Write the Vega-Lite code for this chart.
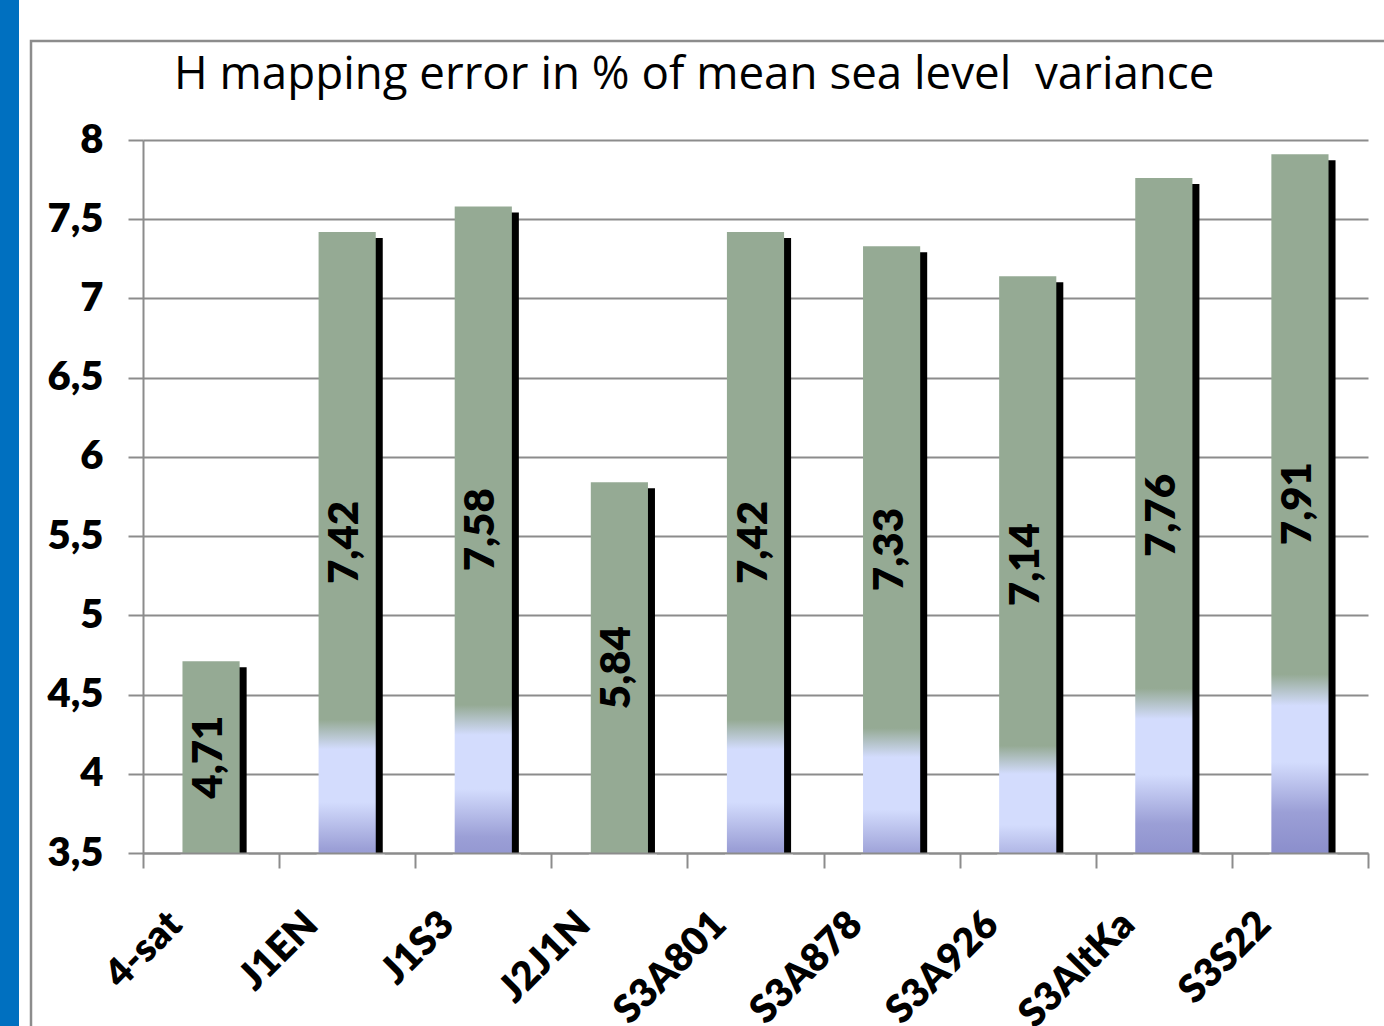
{
  "$schema": "https://vega.github.io/schema/vega-lite/v6.json",
  "padding": 0,
  "background": "white",
  "bounds": "flush",
  "spacing": 12,
  "config": {
    "font": "Lato",
    "locale": {"number": {"decimal": ",", "thousands": ".", "grouping": [3], "currency": ["", " €"]}}
  },
  "hconcat": [
    {
      "width": 19,
      "height": 1026,
      "view": {"fill": "#0070c0", "stroke": null},
      "data": {"values": []},
      "mark": "text",
      "encoding": {}
    },
    {
      "bounds": "flush",
      "spacing": 10,
      "vconcat": [
        {
          "width": 1,
          "height": 31,
          "view": {"stroke": null},
          "data": {"values": []},
          "mark": "text",
          "encoding": {}
        },
        {
          "width": 1360,
          "height": 995,
          "view": {"fill": "white", "stroke": "#8c8c8c", "strokeWidth": 2.5},
          "title": {
            "text": "H mapping error in % of mean sea level\u00a0 variance",
            "anchor": "start",
            "frame": "group",
            "offset": 0,
            "dx": 143,
            "dy": 94,
            "baseline": "alphabetic",
            "font": "Open Sans",
            "fontSize": 45.7,
            "fontWeight": "normal",
            "color": "black"
          },
          "data": {
            "values": [
              {"series": "4-sat", "value": 4.71},
              {"series": "J1EN", "value": 7.42},
              {"series": "J1S3", "value": 7.58},
              {"series": "J2J1N", "value": 5.84},
              {"series": "S3A801", "value": 7.42},
              {"series": "S3A878", "value": 7.33},
              {"series": "S3A926", "value": 7.14},
              {"series": "S3AltKa", "value": 7.76},
              {"series": "S3S22", "value": 7.91}
            ]
          },
          "encoding": {
            "x": {
              "field": "series",
              "type": "nominal",
              "sort": null,
              "scale": {"range": [112, 1337], "paddingInner": 0, "paddingOuter": 0},
              "axis": {
                "title": null,
                "orient": "bottom",
                "offset": -183,
                "zindex": 1,
                "grid": false,
                "tickBand": "extent",
                "domainColor": "#8c8c8c",
                "domainWidth": 2,
                "tickColor": "#8c8c8c",
                "tickWidth": 2,
                "tickSize": 15,
                "labelAngle": -45,
                "labelAlign": "right",
                "labelBaseline": "middle",
                "labelPadding": 50,
                "labelOffset": -36,
                "labelFont": "Lato",
                "labelFontSize": 39,
                "labelFontWeight": 800,
                "labelColor": "black"
              }
            }
          },
          "layer": [
            {
              "mark": {"type": "bar", "color": "black", "xOffset": 7, "yOffset": 6, "clip": true, "width": {"band": 0.42}},
              "encoding": {
                "y": {
                  "field": "value",
                  "type": "quantitative",
                  "scale": {"domain": [3.5, 8], "range": [812, 99], "nice": false, "zero": false},
                  "axis": {
                    "title": null,
                    "values": [3.5, 4, 4.5, 5, 5.5, 6, 6.5, 7, 7.5, 8],
                    "format": ".1~f",
                    "offset": -112,
                    "grid": true,
                    "gridColor": "#8c8c8c",
                    "gridWidth": 2,
                    "domainColor": "#8c8c8c",
                    "domainWidth": 2,
                    "tickColor": "#8c8c8c",
                    "tickWidth": 2,
                    "tickSize": 15,
                    "labelPadding": 25,
                    "labelFont": "Lato",
                    "labelFontSize": 40,
                    "labelFontWeight": 800,
                    "labelColor": "black"
                  }
                },
                "y2": {"datum": 0}
              }
            },
            {
              "mark": {
                "type": "bar",
                "clip": true,
                "width": {"band": 0.42},
                "color": {
                  "gradient": "linear",
                  "x1": 0, "y1": 1, "x2": 0, "y2": 0,
                  "stops": [
                    {"offset": 0, "color": "#6f73bd"},
                    {"offset": 0.44, "color": "#8a8dcb"},
                    {"offset": 0.475, "color": "#9b9fd6"},
                    {"offset": 0.515, "color": "#d3dcfd"},
                    {"offset": 0.56, "color": "#d3dcfd"},
                    {"offset": 0.585, "color": "#95aa94"},
                    {"offset": 1, "color": "#95aa94"}
                  ]
                }
              },
              "encoding": {
                "y": {"field": "value", "type": "quantitative"},
                "y2": {"datum": 0}
              }
            },
            {
              "mark": {"type": "bar", "color": "white", "clip": true, "xOffset": 3.5, "width": {"band": 0.5}},
              "encoding": {
                "y": {"datum": 3.5},
                "y2": {"datum": 0}
              }
            },
            {
              "transform": [{"calculate": "(datum.value + 3.5) / 2", "as": "mid"}],
              "mark": {
                "type": "text",
                "angle": 270,
                "align": "center",
                "baseline": "middle",
                "dy": -2,
                "font": "Lato",
                "fontSize": 42,
                "fontWeight": 800,
                "color": "black"
              },
              "encoding": {
                "y": {"field": "mid", "type": "quantitative"},
                "text": {"field": "value", "type": "quantitative", "format": ".2f"}
              }
            }
          ]
        }
      ]
    }
  ]
}
